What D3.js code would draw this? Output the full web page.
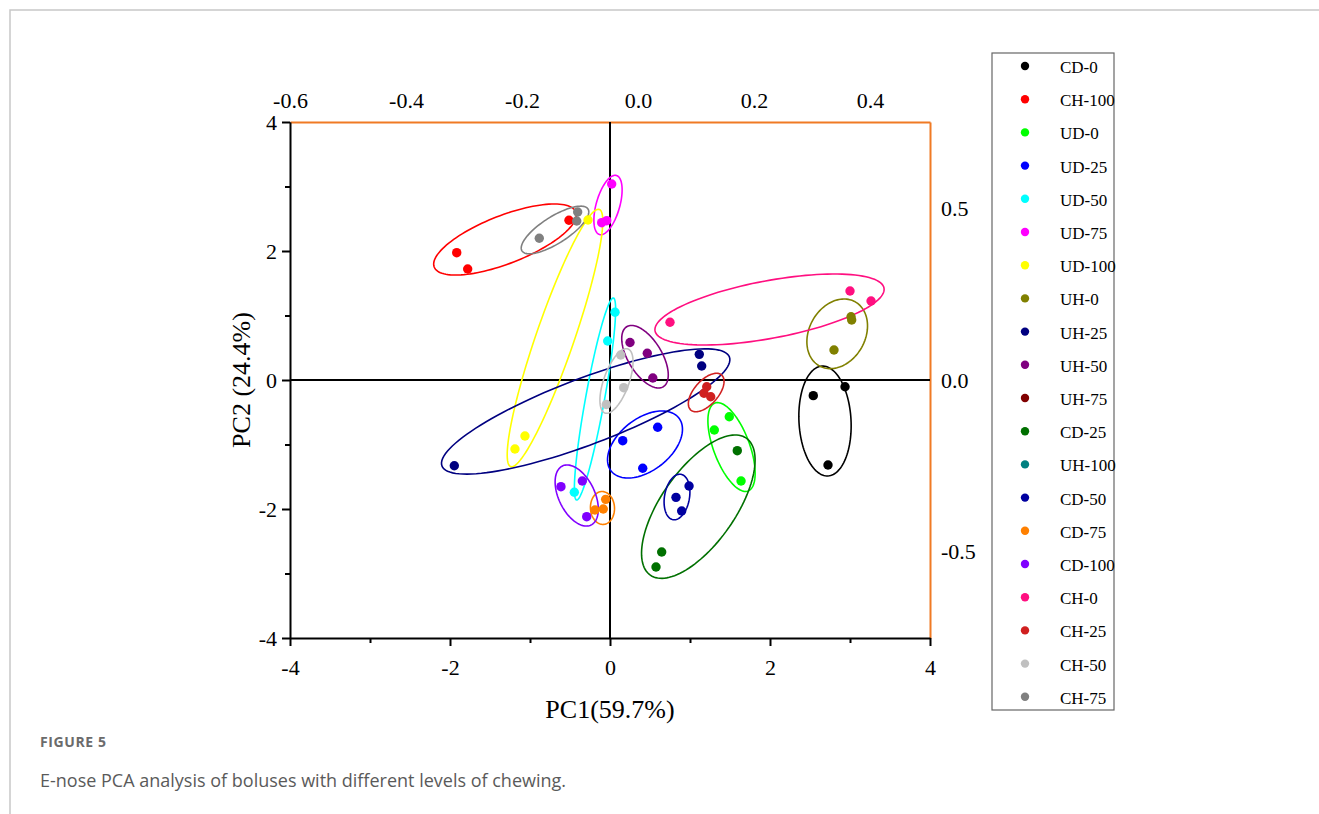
<!DOCTYPE html>
<html>
<head>
<meta charset="utf-8">
<script src="https://cdn.jsdelivr.net/npm/d3@7"></script>
<style>
    body { margin: 0; background: #fff; }
    .axis text { font-family: "Liberation Serif", "Times New Roman", serif; fill: #000; }
</style>
</head>
<body>
<div id="chart"></div>
<script>
// groups in legend order
const groups = ['CD-0', 'CH-100', 'UD-0', 'UD-25', 'UD-50', 'UD-75', 'UD-100', 'UH-0', 'UH-25', 'UH-50',
    'UH-75', 'CD-25', 'UH-100', 'CD-50', 'CD-75', 'CD-100', 'CH-0', 'CH-25', 'CH-50', 'CH-75'];
const groupColors = ['#000000', '#ff0000', '#00ff00', '#0000ff', '#00ffff', '#ff00ff', '#ffff00', '#808000', '#000080', '#800080',
    '#800000', '#007000', '#008080', '#0000a0', '#ff8000', '#8000ff', '#ff0f80', '#d02020', '#c0c0c0', '#808080'];

// PC1 / PC2 scores of each sample, per group
const pc1 = [
    [2.541, 2.938, 2.725], [-1.916, -1.779, -0.513], [1.491, 1.304, 1.638], [0.596, 0.159, 0.409],
    [0.063, -0.029, -0.446], [0.021, -0.104, -0.041], [-0.275, -1.063, -1.188], [3.013, 3.021, 2.800],
    [1.116, 1.146, -1.946], [0.250, 0.466, 0.535], [], [1.591, 0.646, 0.575], [],
    [0.988, 0.825, 0.896], [-0.054, -0.084, -0.188], [-0.613, -0.346, -0.291], [0.750, 3.000, 3.263],
    [1.209, 1.175, 1.259], [0.134, 0.171, -0.046], [-0.884, -0.404, -0.416]
];
const pc2 = [
    [-0.243, -0.104, -1.318], [1.974, 1.721, 2.476], [-0.569, -0.775, -1.566], [-0.733, -0.941, -1.369],
    [1.050, 0.605, -1.741], [3.039, 2.439, 2.470], [2.481, -0.868, -1.070], [0.981, 0.930, 0.465],
    [0.398, 0.217, -1.329], [0.581, 0.414, 0.031], [], [-1.096, -2.667, -2.899], [],
    [-1.643, -1.819, -2.031], [-1.850, -2.000, -2.016], [-1.654, -1.566, -2.119], [0.895, 1.380, 1.225],
    [-0.104, -0.206, -0.259], [0.388, -0.119, -0.380], [2.197, 2.605, 2.465]
];

// confidence ellipses: centre, end of major semi-axis, end of minor semi-axis (PC1, PC2)
const ellipseCenter = [
    [2.6875, -0.636], [-1.3125, 2.178], [1.519, -1.039], [0.4375, -1.0], [-0.1875, -0.295], [-0.025, 2.713],
    [-0.6875, 0.651], [2.84, 0.716], [-0.304, -0.488], [0.4375, 0.361], null, [1.104, -1.964], null,
    [0.8375, -1.814], [-0.094, -1.984], [-0.416, -1.791], [1.994, 1.093], [1.2025, -0.194], [0.081, -0.0155], [-0.6875, 2.326]
];
const ellipseMajorTip = [
    [2.651, 0.2155], [-0.4275, 2.605], [1.3125, -0.357], [0.861, -0.589], [0.0425, 1.271], [0.081, 3.171],
    [-0.134, 2.645], [3.065, 1.212], [1.4925, 0.357], [0.209, 0.826], null, [1.704, -0.902], null,
    [0.8875, -1.462], [-0.105, -1.729], [-0.594, -1.333], [3.425, 1.425], [1.395, 0.0775], [0.225, 0.481], [-0.275, 2.651]
];
const ellipseMinorTip = [
    [2.3625, -0.657], [-1.421, 2.526], [1.308, -1.136], [0.2375, -0.682], [-0.304, -0.268], [-0.166, 2.764],
    [-0.9125, 0.747], [2.535, 0.929], [-0.45, -0.0093], [0.2575, 0.225], null, [0.725, -1.636], null,
    [0.684, -1.780], [-0.244, -1.994], [-0.619, -1.912], [1.9275, 1.532], [1.09, -0.071], [-0.0675, 0.051], [-0.7775, 2.501]
];

// axis ticks
const xMajorTicks = [-4, -2, 0, 2, 4];
const xMinorTicks = [-3, -1, 1, 3];
const yMajorTicks = [-4, -2, 0, 2, 4];
const yMinorTicks = [-3, -1, 1, 3];
const loadingXTicks = [-0.6, -0.4, -0.2, 0.0, 0.2, 0.4];
const loadingYTicks = [-0.5, 0.0, 0.5];

class PcaPlot {

    constructor(_config) {
        this.config = {
            parentElement: _config.parentElement,
            containerWidth: 1319,
            containerHeight: 814,
            margin: {
                top: 122,
                right: 389,
                bottom: 176,
                left: 290
            }
        }
        this.initVis();
    }

    initVis() {
        let vis = this;

        vis.width = vis.config.containerWidth - vis.config.margin.left - vis.config.margin.right;
        vis.height = vis.config.containerHeight - vis.config.margin.top - vis.config.margin.bottom;

        vis.xScale = d3.scaleLinear().domain([-4, 4]).range([0, vis.width]);
        vis.yScale = d3.scaleLinear().domain([-4, 4]).range([vis.height, 0]);
        // loadings axes on top / right
        vis.xScale2 = d3.scaleLinear().domain([-0.6, -0.6 + vis.width / 580]).range([0, vis.width]);
        vis.yScale2 = d3.scaleLinear().domain([-0.754, 0.754]).range([vis.height, 0]);

        vis.svg = d3.select(vis.config.parentElement).append('svg')
            .attr('width', vis.config.containerWidth)
            .attr('height', vis.config.containerHeight);

        // page frame
        vis.svg.append('path')
            .attr('d', 'M10,814 V10 H1319')
            .attr('fill', 'none')
            .attr('stroke', '#c8c8c8')
            .attr('stroke-width', 1.5);

        vis.chart = vis.svg.append('g')
            .attr('transform', `translate(${vis.config.margin.left},${vis.config.margin.top})`);

        vis.renderVis();
    }

    renderVis() {
        let vis = this;
        const tickFont = 22;
        // plain hyphen as minus, like the original
        const fmt1 = d => d.toFixed(1);
        const fmt0 = d => String(d);

        // top axis (orange)
        const topAxisG = vis.chart.append('g')
            .attr('class', 'axis')
            .call(d3.axisTop(vis.xScale2).tickValues(loadingXTicks).tickFormat(fmt1)
                .tickSize(0).tickPadding(14));
        // right axis (orange)
        const rightAxisG = vis.chart.append('g')
            .attr('class', 'axis')
            .attr('transform', `translate(${vis.width},0)`)
            .call(d3.axisRight(vis.yScale2).tickValues(loadingYTicks).tickFormat(fmt1)
                .tickSize(0).tickPadding(11));
        [topAxisG, rightAxisG].forEach(g => {
            g.select('.domain').attr('stroke', '#f07a24').attr('stroke-width', 2);
            g.selectAll('text').attr('font-size', tickFont);
        });

        // minor ticks
        vis.chart.append('g')
            .attr('class', 'axis')
            .attr('transform', `translate(0,${vis.height})`)
            .call(d3.axisBottom(vis.xScale).tickValues(xMinorTicks).tickFormat('').tickSize(5).tickSizeOuter(0))
            .call(g => g.selectAll('line').attr('stroke-width', 2));
        vis.chart.append('g')
            .attr('class', 'axis')
            .call(d3.axisLeft(vis.yScale).tickValues(yMinorTicks).tickFormat('').tickSize(5).tickSizeOuter(0))
            .call(g => g.selectAll('line').attr('stroke-width', 2));

        // major bottom + left axes
        const xAxisG = vis.chart.append('g')
            .attr('class', 'axis')
            .attr('transform', `translate(0,${vis.height})`)
            .call(d3.axisBottom(vis.xScale).tickValues(xMajorTicks).tickFormat(fmt0)
                .tickSize(8).tickSizeOuter(0).tickPadding(13));
        const yAxisG = vis.chart.append('g')
            .attr('class', 'axis')
            .call(d3.axisLeft(vis.yScale).tickValues(yMajorTicks).tickFormat(fmt0)
                .tickSize(8).tickSizeOuter(0).tickPadding(5));
        [xAxisG, yAxisG].forEach(g => {
            g.select('.domain').attr('stroke', '#000').attr('stroke-width', 2);
            g.selectAll('line').attr('stroke-width', 2);
            g.selectAll('text').attr('font-size', tickFont);
        });

        // zero lines
        vis.chart.append('line')
            .attr('x1', vis.xScale(0)).attr('x2', vis.xScale(0))
            .attr('y1', 0).attr('y2', vis.height)
            .attr('stroke', '#000').attr('stroke-width', 2);
        vis.chart.append('line')
            .attr('x1', 0).attr('x2', vis.width)
            .attr('y1', vis.yScale(0)).attr('y2', vis.yScale(0))
            .attr('stroke', '#000').attr('stroke-width', 2);

        // axis titles
        vis.chart.append('text')
            .attr('x', vis.xScale(0))
            .attr('y', vis.height + 80)
            .attr('text-anchor', 'middle')
            .attr('font-family', '"Liberation Serif", serif')
            .attr('font-size', 26)
            .text('PC1(59.7%)');
        vis.chart.append('text')
            .attr('transform', `translate(-40,${vis.yScale(0)}) rotate(-90)`)
            .attr('text-anchor', 'middle')
            .attr('font-family', '"Liberation Serif", serif')
            .attr('font-size', 26)
            .text('PC2 (24.4%)');

        // ellipses
        const line = d3.line();
        const ellipsePath = i => {
            const c = ellipseCenter[i], t = ellipseMajorTip[i], m = ellipseMinorTip[i];
            const pts = d3.range(0, 360, 3).map(deg => {
                const a = deg * Math.PI / 180;
                return [
                    vis.xScale(c[0] + (t[0] - c[0]) * Math.cos(a) + (m[0] - c[0]) * Math.sin(a)),
                    vis.yScale(c[1] + (t[1] - c[1]) * Math.cos(a) + (m[1] - c[1]) * Math.sin(a))
                ];
            });
            return line(pts) + 'Z';
        };
        const idx = d3.range(groups.length);
        vis.chart.append('g').selectAll('path')
            .data(idx.filter(i => ellipseCenter[i]))
            .join('path')
            .attr('d', ellipsePath)
            .attr('fill', 'none')
            .attr('stroke', i => groupColors[i])
            .attr('stroke-width', 1.6);

        // points
        const pts = [];
        idx.forEach(i => pc1[i].forEach((v, j) => pts.push({ g: i, x: v, y: pc2[i][j] })));
        vis.chart.append('g').selectAll('circle')
            .data(pts)
            .join('circle')
            .attr('cx', d => vis.xScale(d.x))
            .attr('cy', d => vis.yScale(d.y))
            .attr('r', 4.7)
            .attr('fill', d => groupColors[d.g]);

        // legend
        const legend = vis.svg.append('g').attr('transform', 'translate(992,53)');
        legend.append('rect')
            .attr('width', 122).attr('height', 657)
            .attr('fill', 'none').attr('stroke', '#666').attr('stroke-width', 1.2);
        const items = legend.selectAll('.item')
            .data(idx)
            .join('g')
            .attr('class', 'item')
            .attr('transform', i => `translate(0,${14 + i * 33.2})`);
        items.append('circle')
            .attr('cx', 33).attr('cy', -1).attr('r', 4.2)
            .attr('fill', i => groupColors[i]);
        items.append('text')
            .attr('x', 68).attr('y', 6)
            .attr('font-family', '"Liberation Serif", serif')
            .attr('font-size', 17)
            .text(i => groups[i]);

        // figure caption
        vis.svg.append('text')
            .attr('x', 40).attr('y', 747)
            .attr('font-family', '"Open Sans", sans-serif')
            .attr('font-weight', 'bold')
            .attr('font-size', 14)
            .attr('letter-spacing', 0.6)
            .attr('fill', '#6b6b6b')
            .text('FIGURE 5');
        vis.svg.append('text')
            .attr('x', 40).attr('y', 787)
            .attr('font-family', '"Open Sans", sans-serif')
            .attr('font-size', 18)
            .attr('fill', '#5a5a5a')
            .text('E-nose PCA analysis of boluses with different levels of chewing.');
    }
}

let pcaPlot = new PcaPlot({ parentElement: '#chart' });
</script>
</body>
</html>
